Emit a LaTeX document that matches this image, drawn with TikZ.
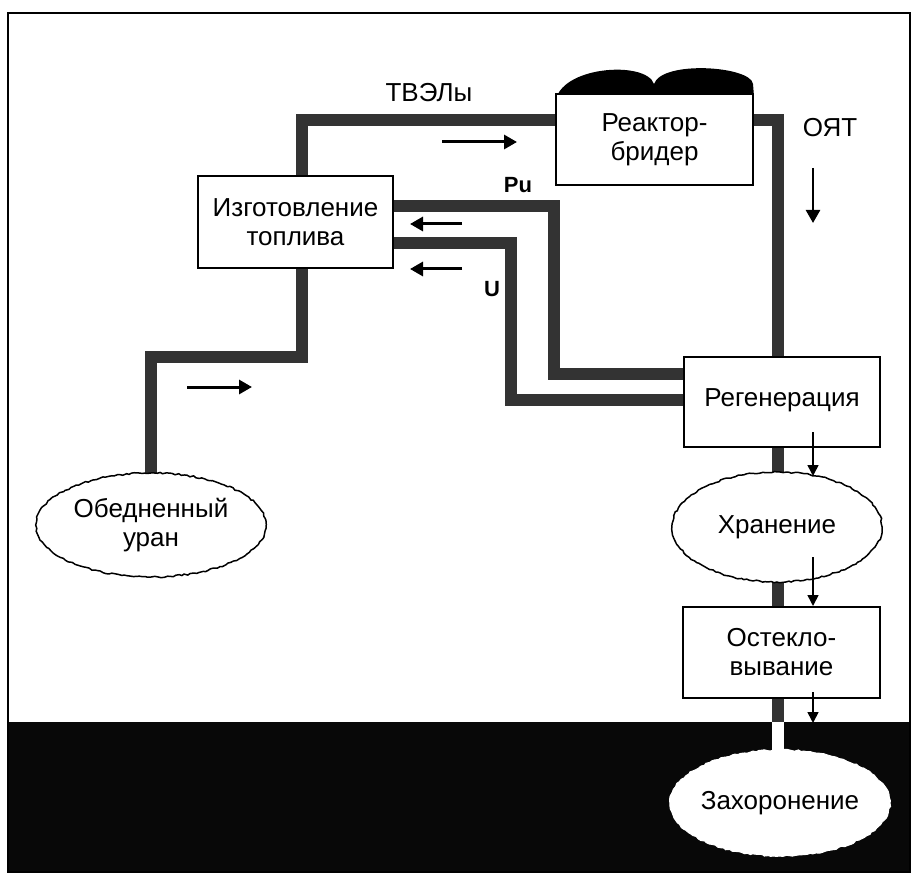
\documentclass[tikz,border=0pt]{standalone}
\usepackage{fontspec}
\setmainfont{Liberation Sans}
\usetikzlibrary{arrows.meta,decorations.pathmorphing,shapes.geometric}
\definecolor{pipegray}{HTML}{333333}
\definecolor{ground}{HTML}{080808}
\begin{document}
\pgfmathsetseed{7}
\begin{tikzpicture}[x=1pt,y=-1pt,
  box/.style={draw=black,line width=1.5pt,fill=white,inner sep=0pt,align=center,font=\fontsize{26}{29}\selectfont},
  oval/.style={ellipse,inner sep=0pt,align=center,font=\fontsize{26}{29}\selectfont},
  pipe/.style={draw=pipegray,line width=11.5pt,line join=miter},
  bigarrow/.style={line width=3pt,-{Triangle[length=13pt,width=14pt]}},
  thinarrow/.style={line width=1.6pt,-{Triangle[length=11pt,width=11pt]}},
  lbl/.style={font=\fontsize{26}{29}\selectfont,inner sep=0pt,anchor=base},
  smlbl/.style={font=\fontsize{22}{26}\selectfont\bfseries,inner sep=0pt,anchor=base},
  wavy/.style={decorate,decoration={random steps,segment length=3pt,amplitude=0.8pt}}]
\useasboundingbox (0,0) rectangle (915,877);
\fill[white] (0,0) rectangle (915,877);
% ground
\fill[ground] (8,722) rectangle (910,872);
\draw[line width=2pt] (8,13) rectangle (910,872);

% node placeholders (shapes) first, so pipes can reference them
\node[box,minimum width=195,minimum height=92] (izg) at (295.5,222) {};
\node[box,minimum width=197,minimum height=91] (reac) at (654.5,139.5) {};
\node[box,minimum width=196,minimum height=90] (regen) at (782,402) {};
\node[box,minimum width=197,minimum height=91] (ost) at (781.5,652.5) {};
\node[oval,minimum width=230,minimum height=104] (obed) at (151,525) {};
\node[oval,minimum width=210,minimum height=110] (stor) at (777,527) {};
\node[oval,minimum width=220,minimum height=106] (bur) at (780,803) {};

% bend coordinates
\coordinate (tl) at (302,120);
\coordinate (tr) at (778,120);
\coordinate (bl1) at (302,357);
\coordinate (bl2) at (151,357);
\coordinate (pu1) at (554,206);
\coordinate (pu2) at (554,374);
\coordinate (u1) at (511,243);
\coordinate (u2) at (511,400);
\coordinate (gr) at (778,722);

% pipes
\draw[pipe] (izg.north -| tl) -- (tl) -- (reac.west |- tl);
\draw[pipe] (reac.east |- tr) -- (tr) -- (regen.north -| tr);
\draw[pipe] (izg.south -| bl1) -- (bl1) -- (bl2) -- (obed.north -| bl2);
\draw[pipe] (izg.east |- pu1) -- (pu1) -- (pu2) -- (regen.west |- pu2);
\draw[pipe] (izg.east |- u1) -- (u1) -- (u2) -- (regen.west |- u2);
\draw[pipe] (regen.south -| tr) -- (stor.north -| tr);
\draw[pipe] (stor.south -| tr) -- (ost.north -| tr);
\draw[pipe] (ost.south -| tr) -- (gr);
\draw[line width=11.5pt,white] (gr) -- (bur.north -| tr);

% reactor cap
\fill[black] (reac.north west) -- ++(0,10)
  .. controls (558,66) and (646,60) .. (654,84)
  .. controls (662,60) and (751,66) .. (753,84) -- (reac.north east) -- cycle;

% boxes with text
\node[box,minimum width=195,minimum height=92] at (izg) {Изготовление\\топлива};
\node[box,minimum width=197,minimum height=91] at (reac) {Реактор-\\бридер};
\node[box,minimum width=196,minimum height=90] at (regen) {\raisebox{8pt}{Регенерация}};
\node[box,minimum width=197,minimum height=91] at (ost) {Остекло-\\вывание};

% ovals
\draw[wavy,line width=1.5pt,fill=white] (obed.center) ellipse [x radius=115,y radius=52];
\node[oval] at (obed) {Обедненный\\уран};
\draw[wavy,line width=1.5pt,fill=white] (stor.center) ellipse [x radius=105,y radius=55];
\node[oval] at (stor) {Хранение};
\draw[wavy,line width=1pt,draw=white,fill=white] (bur.center) ellipse [x radius=110,y radius=53];
\node[oval] at (bur) {Захоронение};

% flow arrows
\coordinate (a1s) at (442,142); \coordinate (a1e) at (517,142);
\coordinate (a2s) at (187,387); \coordinate (a2e) at (252,387);
\coordinate (a3s) at (462,224); \coordinate (a3e) at (410,224);
\coordinate (a4s) at (462,269); \coordinate (a4e) at (410,269);
\coordinate (a5s) at (813,168); \coordinate (a5e) at (813,223);
\draw[bigarrow] (a1s) -- (a1e);
\draw[bigarrow] (a2s) -- (a2e);
\draw[bigarrow] (a3s) -- (a3e);
\draw[bigarrow] (a4s) -- (a4e);
\draw[bigarrow,line width=2.5pt] (a5s) -- (a5e);
\coordinate (t1s) at (813,432); \coordinate (t1e) at (813,476);
\coordinate (t2s) at (813,557); \coordinate (t2e) at (813,606);
\coordinate (t3s) at (813,692); \coordinate (t3e) at (813,723);
\draw[thinarrow] (t1s) -- (t1e);
\draw[thinarrow] (t2s) -- (t2e);
\draw[thinarrow] (t3s) -- (t3e);

% labels
\node[lbl] (ltvel) at (429,102) {ТВЭЛы};
\node[lbl] (loyt) at (830,137) {ОЯТ};
\node[smlbl] (lpu) at (518,193) {Pu};
\node[smlbl] (lu) at (492,296) {U};
\end{tikzpicture}
\end{document}
